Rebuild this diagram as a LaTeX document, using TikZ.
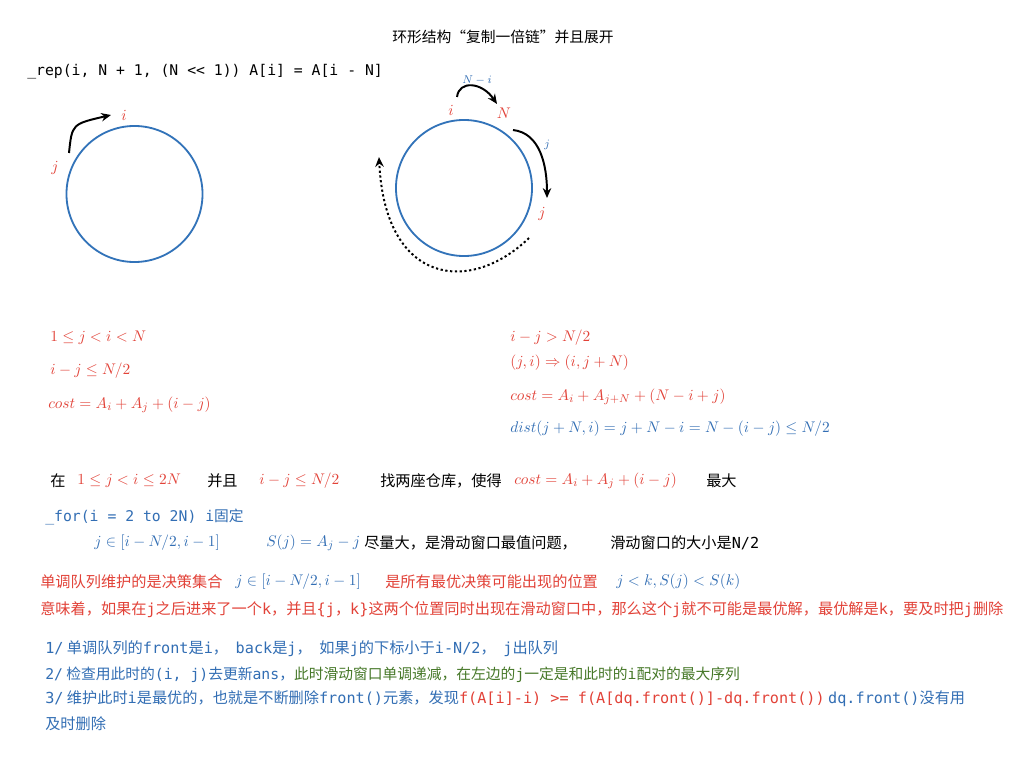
\documentclass[tikz,border=0pt]{standalone}
\usepackage{amsmath,amssymb}
\usepackage[no-math]{fontspec}
\setmainfont{Noto Sans CJK SC}
\setmonofont{DejaVu Sans Mono}
\usepackage{tikz}
\usetikzlibrary{arrows.meta}

\definecolor{ringblue}{RGB}{50,115,185}
\definecolor{notered}{RGB}{226,66,56}
\definecolor{noteblue}{RGB}{50,110,180}
\definecolor{notegreen}{RGB}{70,120,40}

\tikzset{
  txt/.style={anchor=west,inner sep=0pt,font=\fontsize{10.8}{12}\selectfont},
  redeq/.style={anchor=west,inner sep=0pt,text=notered,font=\fontsize{11}{13}\selectfont},
  blueeq/.style={anchor=west,inner sep=0pt,text=noteblue,font=\fontsize{11}{13}\selectfont},
  ring/.style={circle,draw=ringblue,line width=1.3pt,minimum size=3.4cm,inner sep=0pt},
  hop/.style={line width=1.4pt,-{Stealth[length=7pt,width=6pt]}},
}
\newcommand{\gap}{\hspace{0.5em}}

\begin{document}
\begin{tikzpicture}[x=0.025cm,y=-0.025cm]
\fill[white] (0,0) rectangle (1024,768);
\useasboundingbox (0,0) rectangle (1024,768);

\node[txt,anchor=center,font=\fontsize{10.5}{12}\selectfont] (title) at (503,37) {环形结构“复制一倍链”并且展开};
\node[txt,font=\fontsize{10.5}{12}\selectfont] (rep) at (27,72) {\ttfamily \_rep(i, N + 1, (N << 1)) A[i] = A[i - N]};

% left ring
\node[ring] (ringL) at (134.5,194) {};
\coordinate (jL) at (69,153);
\coordinate (iL) at (111,115);
\draw[hop] (jL) .. controls (72,124) .. (iL);
\node[redeq,anchor=center] (iLlab) at (124,115) {$i$};
\node[redeq,anchor=center] (jLlab) at (55,168) {$j$};

% right ring
\node[ring] (ringR) at (464,188) {};
\coordinate (iR) at (457,97);
\coordinate (nR) at (497,104);
\coordinate (nR2) at (513,130);
\coordinate (jR) at (547,198);
\coordinate (wrapA) at (529,238);
\coordinate (wrapB) at (379,157);
\draw[hop] (iR) .. controls (459,80) and (482,82) .. (nR);
\draw[hop] (nR2) .. controls (540,133) and (547,165) .. (jR);
\draw[hop,dash pattern=on 1.6pt off 1.8pt] (wrapA) .. controls (470,295) and (385,285) .. (wrapB);
\node[blueeq,anchor=center,font=\fontsize{8}{9}\selectfont] (nilab) at (477,80) {$N-i$};
\node[redeq,anchor=center] (iRlab) at (451,110) {$i$};
\node[redeq,anchor=center] (nRlab) at (504,113) {$N$};
\node[blueeq,anchor=center,font=\fontsize{8}{9}\selectfont] (jstep) at (547,145) {$j$};
\node[redeq,anchor=center] (jRlab) at (542,214) {$j$};

% case i-j <= N/2
\node[redeq] (c1) at (50,338) {$1\le j<i<N$};
\node[redeq] (c2) at (50,371) {$i-j\le N/2$};
\node[redeq] (c3) at (48,405) {$cost=A_i+A_j+(i-j)$};

% case i-j > N/2
\node[redeq] (d1) at (510,338) {$i-j>N/2$};
\node[redeq] (d2) at (510,363) {$(j,i)\Rightarrow(i,j+N)$};
\node[redeq] (d3) at (510,397) {$cost=A_i+A_{j+N}+(N-i+j)$};
\node[blueeq] (d4) at (510,429) {$dist(j+N,i)=j+N-i=N-(i-j)\le N/2$};

% task
\node[txt] (t1) at (50,481) {在};
\node[redeq] (t2) at (77,481) {$1\le j<i\le 2N$};
\node[txt] (t3) at (207,481) {并且};
\node[redeq] (t4) at (259,481) {$i-j\le N/2$};
\node[txt] (t5) at (380,481) {找两座仓库，使得};
\node[redeq] (t6) at (514,481) {$cost=A_i+A_j+(i-j)$};
\node[txt] (t7) at (706,481) {最大};

\node[txt,text=noteblue,font=\fontsize{10.5}{12}\selectfont] (loop) at (45,517) {\ttfamily \_for(i = 2 to 2N) i\rmfamily 固定};
\node[blueeq] (win) at (94,543) {$j\in[i-N/2,i-1]$};
\node[blueeq] (sj) at (266,543) {$S(j)=A_j-j$};
\node[txt] (sjtxt) at (364,543) {尽量大，是滑动窗口最值问题，\hspace{2.2em}滑动窗口的大小是\texttt{N/2}};

% monotone queue
\node[txt,text=notered] (q1) at (40,582) {单调队列维护的是决策集合};
\node[blueeq] (q2) at (235,582) {$j\in[i-N/2,i-1]$};
\node[txt,text=notered] (q3) at (385,582) {是所有最优决策可能出现的位置};
\node[blueeq] (q4) at (616,582) {$j<k,S(j)<S(k)$};
\node[txt,text=notered,font=\fontsize{10.8}{12}\selectfont] (q5) at (40,610) {意味着，如果在\texttt{j}之后进来了一个\texttt{k}，并且\texttt{\{j}，\texttt{k\}}这两个位置同时出现在滑动窗口中，那么这个\texttt{j}就不可能是最优解，最优解是\texttt{k}，要及时把\texttt{j}删除};

% steps
\node[txt,text=noteblue] (s1) at (45,649) {\texttt{1/} 单调队列的\texttt{front}是\texttt{i}，\gap\texttt{back}是\texttt{j}，\gap 如果\texttt{j}的下标小于\texttt{i-N/2}，\gap\texttt{j}出队列};
\node[txt,text=noteblue,font=\fontsize{10.5}{12}\selectfont] (s2) at (45,675) {\texttt{2/} 检查用此时的\texttt{(i, j)}去更新\texttt{ans}，\textcolor{notegreen}{此时滑动窗口单调递减，在左边的\texttt{j}一定是和此时的\texttt{i}配对的最大序列}};
\node[txt,text=noteblue] (s3) at (45,699) {\texttt{3/} 维护此时\texttt{i}是最优的，也就是不断删除\texttt{front()}元素，发现\textcolor{notered}{\texttt{f(A[i]-i) >= f(A[dq.front()]-dq.front())}} \texttt{dq.front()}没有用};
\node[txt,text=noteblue] (s4) at (45,724) {及时删除};
\end{tikzpicture}
\end{document}
